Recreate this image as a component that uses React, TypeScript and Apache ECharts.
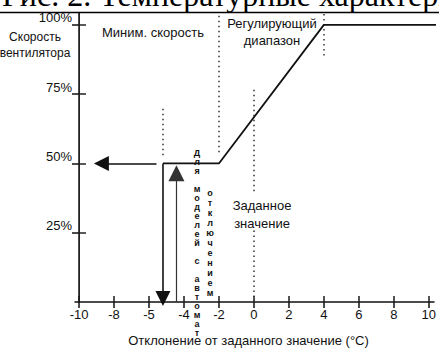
import React, { useEffect, useRef } from "react";
import * as echarts from "echarts";

const xTickValues = [-10, -8, -6, -4, -2, 0, 2, 4, 6, 8, 10];
const xTickLabels = ["-10", "-8", "-5", "-4", "-2", "0", "2", "4", "6", "8", "10"];
const yTickValues = [25, 50, 75, 100];
const yTickLabels = ["25%", "50%", "75%", "100%"];

// fan speed vs deviation from set point (°C, %)
const speedCurve = [[-5.2, 50], [-2, 50], [4, 100], [10.5, 100]];

// arrows: [from, to]
const arrowLeft = [[-5.57, 50], [-8.72, 50]];
const arrowDown = [[-5.2, 50], [-5.2, 1.3]];
const arrowUp = [[-4.43, 0], [-4.43, 46.5]];

// dotted guide lines: [from, to]
const guideLines = [
  [[-5.2, 53], [-5.2, 70]],
  [[-2, 54], [-2, 104]],
  [[4, 89], [4, 104]],
  [[0, 40], [0, 77]],
  [[0, 0], [0, 26.5]],
];

const titleText = "Рис. 2. Температурные характеристики";
const xAxisTitle = "Отклонение от заданного значение (°C)";
const verticalCol1 = "Для моделей с автомат";
const verticalCol2 = "отключением";

const Y_AXIS_AT = -10; // the y axis crosses the x axis here
const X_MIN = -10.23;
const X_MAX = 10.3;
const Y_MAX = 104.3;

const INK = "#111";
const SANS = "'Liberation Sans', Arial, sans-serif";

const stack = (s: string) => s.split("").map((c) => (c === " " ? "" : c)).join("\n");

export default function App() {
  const ref = useRef<HTMLDivElement>(null);
  useEffect(() => {
    if (!ref.current) return;
    const chart = echarts.init(ref.current, null, { renderer: "svg" });
    const txt = (text: string, x: number, y: number, extra: any = {}) => ({
      type: "text",
      x,
      y,
      z: 100,
      style: {
        text,
        fill: INK,
        font: `13px ${SANS}`,
        align: "center",
        verticalAlign: "middle",
        ...extra,
      },
    });
    const yLabel = (v: number) => {
      const i = yTickValues.indexOf(Math.round(v));
      return i >= 0 ? yTickLabels[i] : "";
    };
    const option: any = {
      animation: false,
      backgroundColor: "#fff",
      grid: { left: 75, right: 3, top: 13, bottom: 45, containLabel: false },
      xAxis: [
        {
          type: "value",
          min: X_MIN,
          max: X_MAX,
          position: "bottom",
          axisLine: { show: true, lineStyle: { color: INK, width: 1.5 } },
          axisTick: { show: true, inside: false, length: 6, customValues: xTickValues, lineStyle: { color: INK, width: 1.5 } },
          axisLabel: {
            show: true,
            customValues: xTickValues,
            margin: 6,
            color: INK,
            fontSize: 13,
            fontFamily: SANS,
            formatter: (v: number) => {
              const i = xTickValues.indexOf(Math.round(v));
              return i >= 0 ? xTickLabels[i] : "";
            },
          },
          splitLine: { show: false },
          name: xAxisTitle,
          nameLocation: "middle",
          nameGap: 32,
          nameTextStyle: { color: INK, fontSize: 13, fontFamily: SANS, padding: [0, 12, 0, 0] },
        },
        {
          type: "value",
          min: X_MIN,
          max: X_MAX,
          position: "bottom",
          axisLine: { show: false },
          axisTick: { show: true, inside: true, length: 6, customValues: xTickValues, lineStyle: { color: "#1a1a1a", width: 1.5 } },
          axisLabel: { show: false },
          splitLine: { show: false },
        },
        {
          // hidden helper axis: its zero lies at x = -10, where the y axis sits
          type: "value",
          min: X_MIN - Y_AXIS_AT,
          max: X_MAX - Y_AXIS_AT,
          show: false,
          position: "bottom",
        },
      ],
      yAxis: [
        {
          type: "value",
          min: 0,
          max: Y_MAX,
          position: "left",
          axisLine: { show: true, onZero: true, onZeroAxisIndex: 2, lineStyle: { color: INK, width: 1.5 } },
          axisTick: { show: true, inside: false, length: 7, customValues: yTickValues, lineStyle: { color: INK, width: 1.5 } },
          axisLabel: {
            show: true,
            customValues: yTickValues,
            margin: 3,
            color: INK,
            fontSize: 13,
            fontFamily: SANS,
            verticalAlign: "bottom",
            lineHeight: 14,
            formatter: yLabel,
          },
          splitLine: { show: false },
        },
        {
          type: "value",
          min: 0,
          max: Y_MAX,
          position: "left",
          axisLine: { show: true, onZero: true, onZeroAxisIndex: 2, lineStyle: { color: "#222", width: 1 } },
          axisTick: { show: true, inside: true, length: 7, customValues: yTickValues, lineStyle: { color: "#222", width: 1.5 } },
          axisLabel: { show: false },
          splitLine: { show: false },
        },
      ],
      series: [
        {
          type: "line",
          data: speedCurve,
          clip: false,
          symbol: "none",
          lineStyle: { color: INK, width: 1.8 },
          z: 5,
        },
        {
          type: "lines",
          coordinateSystem: "cartesian2d",
          data: guideLines.map((c) => ({ coords: c })),
          symbol: ["none", "none"],
          lineStyle: { color: "#333", width: 1.5, type: [1.5, 3.5], opacity: 1 },
          z: 3,
        },
        {
          type: "lines",
          coordinateSystem: "cartesian2d",
          clip: false,
          data: [
            { coords: arrowLeft },
            { coords: arrowDown },
          ],
          symbol: ["none", "triangle"],
          symbolSize: [12, 15],
          lineStyle: { color: INK, width: 1.6, opacity: 1 },
          z: 6,
        },
        {
          type: "lines",
          coordinateSystem: "cartesian2d",
          data: [{ coords: arrowUp }],
          symbol: ["none", "triangle"],
          symbolSize: [12, 16],
          lineStyle: { color: "#333", width: 1.2, opacity: 1 },
          z: 6,
        },
      ],
      graphic: [
        txt(titleText, 2, -5, { font: `32px 'Liberation Serif', 'Times New Roman', serif`, align: "left", fill: "#000" }),
        { type: "line", shape: { x1: 0, y1: 12.5, x2: 439, y2: 12.5 }, style: { stroke: "#000", lineWidth: 1.5 }, z: 100 },
        txt("Скорость", 35, 37, { font: `12px ${SANS}` }),
        txt("вентилятора", 35, 53, { font: `12px ${SANS}` }),
        txt("Миним. скорость", 153, 32),
        txt("Регулирующий", 272, 23),
        txt("диапазон", 272, 40),
        txt("Заданное", 262, 205),
        txt("значение", 262, 223),
        txt(stack(verticalCol1), 197, 148.5, { font: `bold 9px ${SANS}`, lineHeight: 9, verticalAlign: "top" }),
        txt(stack(verticalCol2), 210, 188, { font: `bold 9px ${SANS}`, lineHeight: 10, verticalAlign: "top" }),
      ],
    };
    chart.setOption(option);
    return () => chart.dispose();
  }, []);
  return (
    <div
      ref={ref}
      style={{ position: "fixed", left: 0, top: 0, width: 439, height: 352, background: "#fff" }}
    />
  );
}
